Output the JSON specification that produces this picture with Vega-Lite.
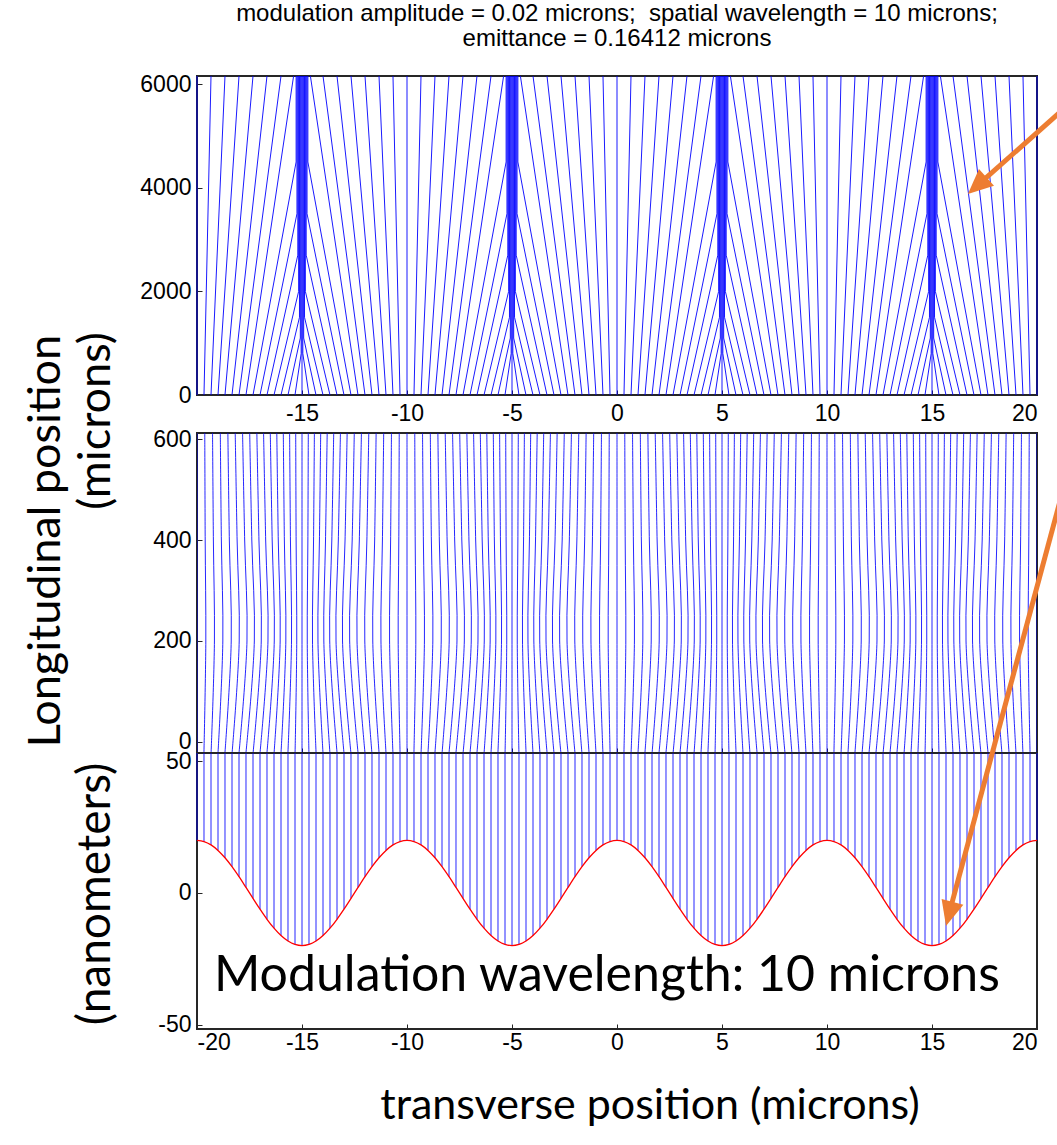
{
"$schema": "https://vega.github.io/schema/vega-lite/v6.json",
"background": "white",
"padding": {"left": 23, "top": 1, "right": 0, "bottom": 0},
"config": {
  "view": {"stroke": "#262626", "strokeWidth": 2},
  "axis": {"domain": false, "grid": false, "labelFont": "Liberation Sans", "labelFontSize": 23, "labelColor": "black", "tickColor": "#262626", "tickSize": -5, "title": null, "labelExpr": "'' + datum.value"},
  "axisY": {"labelPadding": 11}
},
"datasets": {
"top": [
{"k":0,"x":[-20,-20],"z":[0,6160]},
{"k":1,"x":[-19.667,-19.333],"z":[0,6160]},
{"k":2,"x":[-19.333,-18.667],"z":[0,6160]},
{"k":3,"x":[-19,-18],"z":[0,6160]},
{"k":4,"x":[-18.667,-17.333],"z":[0,6160]},
{"k":5,"x":[-18.333,-16.667],"z":[0,6160]},
{"k":6,"x":[-18,-16],"z":[0,6160]},
{"k":7,"x":[-17.667,-15.4],"z":[0,6160]},
{"k":8,"x":[-17.333,-15.28,-15.28],"z":[0,4500,6160]},
{"k":9,"x":[-17,-15.24,-15.24],"z":[0,3500,6160]},
{"k":10,"x":[-16.667,-15.2,-15.2],"z":[0,2700,6160]},
{"k":11,"x":[-16.333,-15.16,-15.16],"z":[0,2000,6160]},
{"k":12,"x":[-16,-15.12,-15.12],"z":[0,1500,6160]},
{"k":13,"x":[-15.667,-15.08,-15.08],"z":[0,1100,6160]},
{"k":14,"x":[-15.333,-15.04,-15.04],"z":[0,800,6160]},
{"k":15,"x":[-15,-15],"z":[0,6160]},
{"k":16,"x":[-14.667,-14.96,-14.96],"z":[0,800,6160]},
{"k":17,"x":[-14.333,-14.92,-14.92],"z":[0,1100,6160]},
{"k":18,"x":[-14,-14.88,-14.88],"z":[0,1500,6160]},
{"k":19,"x":[-13.667,-14.84,-14.84],"z":[0,2000,6160]},
{"k":20,"x":[-13.333,-14.8,-14.8],"z":[0,2700,6160]},
{"k":21,"x":[-13,-14.76,-14.76],"z":[0,3500,6160]},
{"k":22,"x":[-12.667,-14.72,-14.72],"z":[0,4500,6160]},
{"k":23,"x":[-12.333,-14.6],"z":[0,6160]},
{"k":24,"x":[-12,-14],"z":[0,6160]},
{"k":25,"x":[-11.667,-13.333],"z":[0,6160]},
{"k":26,"x":[-11.333,-12.667],"z":[0,6160]},
{"k":27,"x":[-11,-12],"z":[0,6160]},
{"k":28,"x":[-10.667,-11.333],"z":[0,6160]},
{"k":29,"x":[-10.333,-10.667],"z":[0,6160]},
{"k":30,"x":[-10,-10],"z":[0,6160]},
{"k":31,"x":[-9.667,-9.333],"z":[0,6160]},
{"k":32,"x":[-9.333,-8.667],"z":[0,6160]},
{"k":33,"x":[-9,-8],"z":[0,6160]},
{"k":34,"x":[-8.667,-7.333],"z":[0,6160]},
{"k":35,"x":[-8.333,-6.667],"z":[0,6160]},
{"k":36,"x":[-8,-6],"z":[0,6160]},
{"k":37,"x":[-7.667,-5.4],"z":[0,6160]},
{"k":38,"x":[-7.333,-5.28,-5.28],"z":[0,4500,6160]},
{"k":39,"x":[-7,-5.24,-5.24],"z":[0,3500,6160]},
{"k":40,"x":[-6.667,-5.2,-5.2],"z":[0,2700,6160]},
{"k":41,"x":[-6.333,-5.16,-5.16],"z":[0,2000,6160]},
{"k":42,"x":[-6,-5.12,-5.12],"z":[0,1500,6160]},
{"k":43,"x":[-5.667,-5.08,-5.08],"z":[0,1100,6160]},
{"k":44,"x":[-5.333,-5.04,-5.04],"z":[0,800,6160]},
{"k":45,"x":[-5,-5],"z":[0,6160]},
{"k":46,"x":[-4.667,-4.96,-4.96],"z":[0,800,6160]},
{"k":47,"x":[-4.333,-4.92,-4.92],"z":[0,1100,6160]},
{"k":48,"x":[-4,-4.88,-4.88],"z":[0,1500,6160]},
{"k":49,"x":[-3.667,-4.84,-4.84],"z":[0,2000,6160]},
{"k":50,"x":[-3.333,-4.8,-4.8],"z":[0,2700,6160]},
{"k":51,"x":[-3,-4.76,-4.76],"z":[0,3500,6160]},
{"k":52,"x":[-2.667,-4.72,-4.72],"z":[0,4500,6160]},
{"k":53,"x":[-2.333,-4.6],"z":[0,6160]},
{"k":54,"x":[-2,-4],"z":[0,6160]},
{"k":55,"x":[-1.667,-3.333],"z":[0,6160]},
{"k":56,"x":[-1.333,-2.667],"z":[0,6160]},
{"k":57,"x":[-1,-2],"z":[0,6160]},
{"k":58,"x":[-0.667,-1.333],"z":[0,6160]},
{"k":59,"x":[-0.333,-0.667],"z":[0,6160]},
{"k":60,"x":[0,0],"z":[0,6160]},
{"k":61,"x":[0.333,0.667],"z":[0,6160]},
{"k":62,"x":[0.667,1.333],"z":[0,6160]},
{"k":63,"x":[1,2],"z":[0,6160]},
{"k":64,"x":[1.333,2.667],"z":[0,6160]},
{"k":65,"x":[1.667,3.333],"z":[0,6160]},
{"k":66,"x":[2,4],"z":[0,6160]},
{"k":67,"x":[2.333,4.6],"z":[0,6160]},
{"k":68,"x":[2.667,4.72,4.72],"z":[0,4500,6160]},
{"k":69,"x":[3,4.76,4.76],"z":[0,3500,6160]},
{"k":70,"x":[3.333,4.8,4.8],"z":[0,2700,6160]},
{"k":71,"x":[3.667,4.84,4.84],"z":[0,2000,6160]},
{"k":72,"x":[4,4.88,4.88],"z":[0,1500,6160]},
{"k":73,"x":[4.333,4.92,4.92],"z":[0,1100,6160]},
{"k":74,"x":[4.667,4.96,4.96],"z":[0,800,6160]},
{"k":75,"x":[5,5],"z":[0,6160]},
{"k":76,"x":[5.333,5.04,5.04],"z":[0,800,6160]},
{"k":77,"x":[5.667,5.08,5.08],"z":[0,1100,6160]},
{"k":78,"x":[6,5.12,5.12],"z":[0,1500,6160]},
{"k":79,"x":[6.333,5.16,5.16],"z":[0,2000,6160]},
{"k":80,"x":[6.667,5.2,5.2],"z":[0,2700,6160]},
{"k":81,"x":[7,5.24,5.24],"z":[0,3500,6160]},
{"k":82,"x":[7.333,5.28,5.28],"z":[0,4500,6160]},
{"k":83,"x":[7.667,5.4],"z":[0,6160]},
{"k":84,"x":[8,6],"z":[0,6160]},
{"k":85,"x":[8.333,6.667],"z":[0,6160]},
{"k":86,"x":[8.667,7.333],"z":[0,6160]},
{"k":87,"x":[9,8],"z":[0,6160]},
{"k":88,"x":[9.333,8.667],"z":[0,6160]},
{"k":89,"x":[9.667,9.333],"z":[0,6160]},
{"k":90,"x":[10,10],"z":[0,6160]},
{"k":91,"x":[10.333,10.667],"z":[0,6160]},
{"k":92,"x":[10.667,11.333],"z":[0,6160]},
{"k":93,"x":[11,12],"z":[0,6160]},
{"k":94,"x":[11.333,12.667],"z":[0,6160]},
{"k":95,"x":[11.667,13.333],"z":[0,6160]},
{"k":96,"x":[12,14],"z":[0,6160]},
{"k":97,"x":[12.333,14.6],"z":[0,6160]},
{"k":98,"x":[12.667,14.72,14.72],"z":[0,4500,6160]},
{"k":99,"x":[13,14.76,14.76],"z":[0,3500,6160]},
{"k":100,"x":[13.333,14.8,14.8],"z":[0,2700,6160]},
{"k":101,"x":[13.667,14.84,14.84],"z":[0,2000,6160]},
{"k":102,"x":[14,14.88,14.88],"z":[0,1500,6160]},
{"k":103,"x":[14.333,14.92,14.92],"z":[0,1100,6160]},
{"k":104,"x":[14.667,14.96,14.96],"z":[0,800,6160]},
{"k":105,"x":[15,15],"z":[0,6160]},
{"k":106,"x":[15.333,15.04,15.04],"z":[0,800,6160]},
{"k":107,"x":[15.667,15.08,15.08],"z":[0,1100,6160]},
{"k":108,"x":[16,15.12,15.12],"z":[0,1500,6160]},
{"k":109,"x":[16.333,15.16,15.16],"z":[0,2000,6160]},
{"k":110,"x":[16.667,15.2,15.2],"z":[0,2700,6160]},
{"k":111,"x":[17,15.24,15.24],"z":[0,3500,6160]},
{"k":112,"x":[17.333,15.28,15.28],"z":[0,4500,6160]},
{"k":113,"x":[17.667,15.4],"z":[0,6160]},
{"k":114,"x":[18,16],"z":[0,6160]},
{"k":115,"x":[18.333,16.667],"z":[0,6160]},
{"k":116,"x":[18.667,17.333],"z":[0,6160]},
{"k":117,"x":[19,18],"z":[0,6160]},
{"k":118,"x":[19.333,18.667],"z":[0,6160]},
{"k":119,"x":[19.667,19.333],"z":[0,6160]},
{"k":120,"x":[20,20],"z":[0,6160]}
],
"mid": [
{"k":0,"x":[-20,-20,-20,-20],"z":[-22,200,400,612]},
{"k":1,"x":[-19.67,-19.58,-19.61,-19.63],"z":[-22,200,400,612]},
{"k":2,"x":[-19.33,-19.17,-19.22,-19.26],"z":[-22,200,400,612]},
{"k":3,"x":[-19,-18.77,-18.84,-18.89],"z":[-22,200,400,612]},
{"k":4,"x":[-18.67,-18.37,-18.46,-18.53],"z":[-22,200,400,612]},
{"k":5,"x":[-18.33,-17.99,-18.09,-18.18],"z":[-22,200,400,612]},
{"k":6,"x":[-18,-17.62,-17.73,-17.83],"z":[-22,200,400,612]},
{"k":7,"x":[-17.67,-17.27,-17.39,-17.49],"z":[-22,200,400,612]},
{"k":8,"x":[-17.33,-16.94,-17.05,-17.15],"z":[-22,200,400,612]},
{"k":9,"x":[-17,-16.62,-16.73,-16.83],"z":[-22,200,400,612]},
{"k":10,"x":[-16.67,-16.32,-16.42,-16.51],"z":[-22,200,400,612]},
{"k":11,"x":[-16.33,-16.04,-16.13,-16.2],"z":[-22,200,400,612]},
{"k":12,"x":[-16,-15.77,-15.84,-15.89],"z":[-22,200,400,612]},
{"k":13,"x":[-15.67,-15.5,-15.55,-15.59],"z":[-22,200,400,612]},
{"k":14,"x":[-15.33,-15.25,-15.28,-15.3],"z":[-22,200,400,612]},
{"k":15,"x":[-15,-15,-15,-15],"z":[-22,200,400,612]},
{"k":16,"x":[-14.67,-14.75,-14.72,-14.7],"z":[-22,200,400,612]},
{"k":17,"x":[-14.33,-14.5,-14.45,-14.41],"z":[-22,200,400,612]},
{"k":18,"x":[-14,-14.24,-14.17,-14.11],"z":[-22,200,400,612]},
{"k":19,"x":[-13.67,-13.96,-13.88,-13.8],"z":[-22,200,400,612]},
{"k":20,"x":[-13.33,-13.68,-13.58,-13.49],"z":[-22,200,400,612]},
{"k":21,"x":[-13,-13.38,-13.27,-13.17],"z":[-22,200,400,612]},
{"k":22,"x":[-12.67,-13.07,-12.95,-12.85],"z":[-22,200,400,612]},
{"k":23,"x":[-12.33,-12.73,-12.61,-12.51],"z":[-22,200,400,612]},
{"k":24,"x":[-12,-12.38,-12.27,-12.17],"z":[-22,200,400,612]},
{"k":25,"x":[-11.67,-12.01,-11.91,-11.82],"z":[-22,200,400,612]},
{"k":26,"x":[-11.33,-11.63,-11.54,-11.47],"z":[-22,200,400,612]},
{"k":27,"x":[-11,-11.24,-11.17,-11.11],"z":[-22,200,400,612]},
{"k":28,"x":[-10.67,-10.83,-10.78,-10.74],"z":[-22,200,400,612]},
{"k":29,"x":[-10.33,-10.42,-10.39,-10.37],"z":[-22,200,400,612]},
{"k":30,"x":[-10,-10,-10,-10],"z":[-22,200,400,612]},
{"k":31,"x":[-9.67,-9.58,-9.61,-9.63],"z":[-22,200,400,612]},
{"k":32,"x":[-9.33,-9.17,-9.22,-9.26],"z":[-22,200,400,612]},
{"k":33,"x":[-9,-8.77,-8.84,-8.89],"z":[-22,200,400,612]},
{"k":34,"x":[-8.67,-8.37,-8.46,-8.53],"z":[-22,200,400,612]},
{"k":35,"x":[-8.33,-7.99,-8.09,-8.18],"z":[-22,200,400,612]},
{"k":36,"x":[-8,-7.62,-7.73,-7.83],"z":[-22,200,400,612]},
{"k":37,"x":[-7.67,-7.27,-7.39,-7.49],"z":[-22,200,400,612]},
{"k":38,"x":[-7.33,-6.94,-7.05,-7.15],"z":[-22,200,400,612]},
{"k":39,"x":[-7,-6.62,-6.73,-6.83],"z":[-22,200,400,612]},
{"k":40,"x":[-6.67,-6.32,-6.42,-6.51],"z":[-22,200,400,612]},
{"k":41,"x":[-6.33,-6.04,-6.13,-6.2],"z":[-22,200,400,612]},
{"k":42,"x":[-6,-5.77,-5.84,-5.89],"z":[-22,200,400,612]},
{"k":43,"x":[-5.67,-5.5,-5.55,-5.59],"z":[-22,200,400,612]},
{"k":44,"x":[-5.33,-5.25,-5.28,-5.3],"z":[-22,200,400,612]},
{"k":45,"x":[-5,-5,-5,-5],"z":[-22,200,400,612]},
{"k":46,"x":[-4.67,-4.75,-4.72,-4.7],"z":[-22,200,400,612]},
{"k":47,"x":[-4.33,-4.5,-4.45,-4.41],"z":[-22,200,400,612]},
{"k":48,"x":[-4,-4.24,-4.17,-4.11],"z":[-22,200,400,612]},
{"k":49,"x":[-3.67,-3.96,-3.88,-3.8],"z":[-22,200,400,612]},
{"k":50,"x":[-3.33,-3.68,-3.58,-3.49],"z":[-22,200,400,612]},
{"k":51,"x":[-3,-3.38,-3.27,-3.17],"z":[-22,200,400,612]},
{"k":52,"x":[-2.67,-3.07,-2.95,-2.85],"z":[-22,200,400,612]},
{"k":53,"x":[-2.33,-2.73,-2.61,-2.51],"z":[-22,200,400,612]},
{"k":54,"x":[-2,-2.38,-2.27,-2.17],"z":[-22,200,400,612]},
{"k":55,"x":[-1.67,-2.01,-1.91,-1.82],"z":[-22,200,400,612]},
{"k":56,"x":[-1.33,-1.63,-1.54,-1.47],"z":[-22,200,400,612]},
{"k":57,"x":[-1,-1.24,-1.17,-1.11],"z":[-22,200,400,612]},
{"k":58,"x":[-0.67,-0.83,-0.78,-0.74],"z":[-22,200,400,612]},
{"k":59,"x":[-0.33,-0.42,-0.39,-0.37],"z":[-22,200,400,612]},
{"k":60,"x":[0,0,0,0],"z":[-22,200,400,612]},
{"k":61,"x":[0.33,0.42,0.39,0.37],"z":[-22,200,400,612]},
{"k":62,"x":[0.67,0.83,0.78,0.74],"z":[-22,200,400,612]},
{"k":63,"x":[1,1.23,1.16,1.11],"z":[-22,200,400,612]},
{"k":64,"x":[1.33,1.63,1.54,1.47],"z":[-22,200,400,612]},
{"k":65,"x":[1.67,2.01,1.91,1.82],"z":[-22,200,400,612]},
{"k":66,"x":[2,2.38,2.27,2.17],"z":[-22,200,400,612]},
{"k":67,"x":[2.33,2.73,2.61,2.51],"z":[-22,200,400,612]},
{"k":68,"x":[2.67,3.06,2.95,2.85],"z":[-22,200,400,612]},
{"k":69,"x":[3,3.38,3.27,3.17],"z":[-22,200,400,612]},
{"k":70,"x":[3.33,3.68,3.58,3.49],"z":[-22,200,400,612]},
{"k":71,"x":[3.67,3.96,3.87,3.8],"z":[-22,200,400,612]},
{"k":72,"x":[4,4.23,4.16,4.11],"z":[-22,200,400,612]},
{"k":73,"x":[4.33,4.5,4.45,4.41],"z":[-22,200,400,612]},
{"k":74,"x":[4.67,4.75,4.72,4.7],"z":[-22,200,400,612]},
{"k":75,"x":[5,5,5,5],"z":[-22,200,400,612]},
{"k":76,"x":[5.33,5.25,5.28,5.3],"z":[-22,200,400,612]},
{"k":77,"x":[5.67,5.5,5.55,5.59],"z":[-22,200,400,612]},
{"k":78,"x":[6,5.76,5.83,5.89],"z":[-22,200,400,612]},
{"k":79,"x":[6.33,6.04,6.12,6.2],"z":[-22,200,400,612]},
{"k":80,"x":[6.67,6.32,6.42,6.51],"z":[-22,200,400,612]},
{"k":81,"x":[7,6.62,6.73,6.83],"z":[-22,200,400,612]},
{"k":82,"x":[7.33,6.93,7.05,7.15],"z":[-22,200,400,612]},
{"k":83,"x":[7.67,7.27,7.39,7.49],"z":[-22,200,400,612]},
{"k":84,"x":[8,7.62,7.73,7.83],"z":[-22,200,400,612]},
{"k":85,"x":[8.33,7.99,8.09,8.18],"z":[-22,200,400,612]},
{"k":86,"x":[8.67,8.37,8.46,8.53],"z":[-22,200,400,612]},
{"k":87,"x":[9,8.76,8.83,8.89],"z":[-22,200,400,612]},
{"k":88,"x":[9.33,9.17,9.22,9.26],"z":[-22,200,400,612]},
{"k":89,"x":[9.67,9.58,9.61,9.63],"z":[-22,200,400,612]},
{"k":90,"x":[10,10,10,10],"z":[-22,200,400,612]},
{"k":91,"x":[10.33,10.42,10.39,10.37],"z":[-22,200,400,612]},
{"k":92,"x":[10.67,10.83,10.78,10.74],"z":[-22,200,400,612]},
{"k":93,"x":[11,11.23,11.16,11.11],"z":[-22,200,400,612]},
{"k":94,"x":[11.33,11.63,11.54,11.47],"z":[-22,200,400,612]},
{"k":95,"x":[11.67,12.01,11.91,11.82],"z":[-22,200,400,612]},
{"k":96,"x":[12,12.38,12.27,12.17],"z":[-22,200,400,612]},
{"k":97,"x":[12.33,12.73,12.61,12.51],"z":[-22,200,400,612]},
{"k":98,"x":[12.67,13.06,12.95,12.85],"z":[-22,200,400,612]},
{"k":99,"x":[13,13.38,13.27,13.17],"z":[-22,200,400,612]},
{"k":100,"x":[13.33,13.68,13.58,13.49],"z":[-22,200,400,612]},
{"k":101,"x":[13.67,13.96,13.87,13.8],"z":[-22,200,400,612]},
{"k":102,"x":[14,14.23,14.16,14.11],"z":[-22,200,400,612]},
{"k":103,"x":[14.33,14.5,14.45,14.41],"z":[-22,200,400,612]},
{"k":104,"x":[14.67,14.75,14.72,14.7],"z":[-22,200,400,612]},
{"k":105,"x":[15,15,15,15],"z":[-22,200,400,612]},
{"k":106,"x":[15.33,15.25,15.28,15.3],"z":[-22,200,400,612]},
{"k":107,"x":[15.67,15.5,15.55,15.59],"z":[-22,200,400,612]},
{"k":108,"x":[16,15.76,15.83,15.89],"z":[-22,200,400,612]},
{"k":109,"x":[16.33,16.04,16.12,16.2],"z":[-22,200,400,612]},
{"k":110,"x":[16.67,16.32,16.42,16.51],"z":[-22,200,400,612]},
{"k":111,"x":[17,16.62,16.73,16.83],"z":[-22,200,400,612]},
{"k":112,"x":[17.33,16.93,17.05,17.15],"z":[-22,200,400,612]},
{"k":113,"x":[17.67,17.27,17.39,17.49],"z":[-22,200,400,612]},
{"k":114,"x":[18,17.62,17.73,17.83],"z":[-22,200,400,612]},
{"k":115,"x":[18.33,17.99,18.09,18.18],"z":[-22,200,400,612]},
{"k":116,"x":[18.67,18.37,18.46,18.53],"z":[-22,200,400,612]},
{"k":117,"x":[19,18.76,18.83,18.89],"z":[-22,200,400,612]},
{"k":118,"x":[19.33,19.17,19.22,19.26],"z":[-22,200,400,612]},
{"k":119,"x":[19.67,19.58,19.61,19.63],"z":[-22,200,400,612]},
{"k":120,"x":[20,20,20,20],"z":[-22,200,400,612]}
],
"bot": [
{"x":-20,"h":20},{"x":-19.667,"h":19.56},{"x":-19.333,"h":18.27},{"x":-19,"h":16.18},{"x":-18.667,"h":13.38},{"x":-18.333,"h":10},{"x":-18,"h":6.18},{"x":-17.667,"h":2.09},{"x":-17.333,"h":-2.09},{"x":-17,"h":-6.18},{"x":-16.667,"h":-10},{"x":-16.333,"h":-13.38},{"x":-16,"h":-16.18},{"x":-15.667,"h":-18.27},{"x":-15.333,"h":-19.56},{"x":-15,"h":-20},{"x":-14.667,"h":-19.56},{"x":-14.333,"h":-18.27},{"x":-14,"h":-16.18},{"x":-13.667,"h":-13.38},{"x":-13.333,"h":-10},{"x":-13,"h":-6.18},{"x":-12.667,"h":-2.09},{"x":-12.333,"h":2.09},{"x":-12,"h":6.18},{"x":-11.667,"h":10},{"x":-11.333,"h":13.38},{"x":-11,"h":16.18},{"x":-10.667,"h":18.27},{"x":-10.333,"h":19.56},
{"x":-10,"h":20},{"x":-9.667,"h":19.56},{"x":-9.333,"h":18.27},{"x":-9,"h":16.18},{"x":-8.667,"h":13.38},{"x":-8.333,"h":10},{"x":-8,"h":6.18},{"x":-7.667,"h":2.09},{"x":-7.333,"h":-2.09},{"x":-7,"h":-6.18},{"x":-6.667,"h":-10},{"x":-6.333,"h":-13.38},{"x":-6,"h":-16.18},{"x":-5.667,"h":-18.27},{"x":-5.333,"h":-19.56},{"x":-5,"h":-20},{"x":-4.667,"h":-19.56},{"x":-4.333,"h":-18.27},{"x":-4,"h":-16.18},{"x":-3.667,"h":-13.38},{"x":-3.333,"h":-10},{"x":-3,"h":-6.18},{"x":-2.667,"h":-2.09},{"x":-2.333,"h":2.09},{"x":-2,"h":6.18},{"x":-1.667,"h":10},{"x":-1.333,"h":13.38},{"x":-1,"h":16.18},{"x":-0.667,"h":18.27},{"x":-0.333,"h":19.56},
{"x":0,"h":20},{"x":0.333,"h":19.56},{"x":0.667,"h":18.27},{"x":1,"h":16.18},{"x":1.333,"h":13.38},{"x":1.667,"h":10},{"x":2,"h":6.18},{"x":2.333,"h":2.09},{"x":2.667,"h":-2.09},{"x":3,"h":-6.18},{"x":3.333,"h":-10},{"x":3.667,"h":-13.38},{"x":4,"h":-16.18},{"x":4.333,"h":-18.27},{"x":4.667,"h":-19.56},{"x":5,"h":-20},{"x":5.333,"h":-19.56},{"x":5.667,"h":-18.27},{"x":6,"h":-16.18},{"x":6.333,"h":-13.38},{"x":6.667,"h":-10},{"x":7,"h":-6.18},{"x":7.333,"h":-2.09},{"x":7.667,"h":2.09},{"x":8,"h":6.18},{"x":8.333,"h":10},{"x":8.667,"h":13.38},{"x":9,"h":16.18},{"x":9.333,"h":18.27},{"x":9.667,"h":19.56},
{"x":10,"h":20},{"x":10.333,"h":19.56},{"x":10.667,"h":18.27},{"x":11,"h":16.18},{"x":11.333,"h":13.38},{"x":11.667,"h":10},{"x":12,"h":6.18},{"x":12.333,"h":2.09},{"x":12.667,"h":-2.09},{"x":13,"h":-6.18},{"x":13.333,"h":-10},{"x":13.667,"h":-13.38},{"x":14,"h":-16.18},{"x":14.333,"h":-18.27},{"x":14.667,"h":-19.56},{"x":15,"h":-20},{"x":15.333,"h":-19.56},{"x":15.667,"h":-18.27},{"x":16,"h":-16.18},{"x":16.333,"h":-13.38},{"x":16.667,"h":-10},{"x":17,"h":-6.18},{"x":17.333,"h":-2.09},{"x":17.667,"h":2.09},{"x":18,"h":6.18},{"x":18.333,"h":10},{"x":18.667,"h":13.38},{"x":19,"h":16.18},{"x":19.333,"h":18.27},{"x":19.667,"h":19.56},
{"x":20,"h":20}
]
},
"bounds": "flush",
"spacing": 38,
"vconcat": [
{
  "width": 840, "height": 319,
  "title": {"text": ["modulation amplitude = 0.02 microns; \u00a0spatial wavelength = 10 microns;", "emittance = 0.16412 microns"], "frame": "group", "anchor": "middle", "font": "Liberation Sans", "fontSize": 24, "fontWeight": "normal", "color": "black", "offset": 22, "lineHeight": 25},
  "encoding": {
    "x": {"field": "x", "type": "quantitative", "scale": {"domain": [-20, 20], "nice": false, "zero": false}, "axis": {"values": [-15, -10, -5, 0, 5, 10, 15, 20], "labelPadding": 12}},
    "y": {"field": "z", "type": "quantitative", "scale": {"domain": [0, 6160], "nice": false, "zero": false}, "axis": {"values": [0, 2000, 4000, 6000]}}
  },
  "layer": [
    {"data": {"name": "top"}, "transform": [{"flatten": ["x", "z"]}], "mark": {"type": "line", "color": "#0000ff", "strokeWidth": 1, "opacity": 0.9}, "encoding": {"detail": {"field": "k"}, "order": {"field": "z"}}},
    {"data": {"values": [{"x": 21.48, "z": 5600}, {"x": 17.14, "z": 4036}]}, "mark": {"type": "line", "color": "#ED7D31", "strokeWidth": 5, "strokeCap": "butt"}, "encoding": {}},
    {"data": {"values": [{"x": 16.71, "z": 3881}]}, "mark": {"type": "point", "shape": "M0,0L-0.45,1L0.45,1Z", "size": 2500, "filled": true, "color": "#ED7D31", "opacity": 1, "angle": 228, "strokeWidth": 0}, "encoding": {}}
  ]
},
{
  "bounds": "flush",
  "spacing": 0,
  "vconcat": [
    {
      "width": 840, "height": 320,
      "encoding": {
        "x": {"field": "x", "type": "quantitative", "scale": {"domain": [-20, 20], "nice": false, "zero": false}, "axis": {"values": [-15, -10, -5, 0, 5, 10, 15, 20], "labels": false}},
        "y": {"field": "z", "type": "quantitative", "scale": {"domain": [-21.8, 611.9], "nice": false, "zero": false}, "axis": {"values": [0, 200, 400, 600]}}
      },
      "layer": [
        {"data": {"name": "mid"}, "transform": [{"flatten": ["x", "z"]}], "mark": {"type": "line", "color": "#0000ff", "strokeWidth": 1, "opacity": 0.85, "interpolate": "catmull-rom", "clip": true}, "encoding": {"detail": {"field": "k"}, "order": {"field": "z"}}},
        {"data": {"values": [{"x": -27.19, "z": 398}]}, "mark": {"type": "text", "text": "Longitudinal position", "font": "Lato", "fontSize": 45, "angle": 270, "align": "center", "baseline": "middle", "color": "black"}, "encoding": {}},
        {"data": {"values": [{"x": -24.81, "z": 635.6}]}, "mark": {"type": "text", "text": "(microns)", "font": "Lato", "fontSize": 45, "angle": 270, "align": "center", "baseline": "middle", "color": "black"}, "encoding": {}}
      ]
    },
    {
      "width": 840, "height": 276,
      "encoding": {
        "x": {"field": "x", "type": "quantitative", "scale": {"domain": [-20, 20], "nice": false, "zero": false}, "axis": {"values": [-20, -15, -10, -5, 0, 5, 10, 15, 20], "labelPadding": 7}},
        "y": {"field": "h", "type": "quantitative", "scale": {"domain": [-51.7, 53.2], "nice": false, "zero": false}, "axis": {"values": [-50, 0, 50]}}
      },
      "layer": [
        {"data": {"name": "bot"}, "mark": {"type": "rule", "color": "#0000ff", "strokeWidth": 1, "opacity": 0.85}, "encoding": {"y2": {"datum": 53.2}}},
        {"data": {"name": "bot"}, "mark": {"type": "line", "color": "#ff0000", "strokeWidth": 1.3, "interpolate": "monotone"}, "encoding": {}},
        {"data": {"values": [{"x": -0.48, "h": -37.3}]}, "mark": {"type": "text", "text": "Modulation wavelength: 10 microns", "font": "Lato", "fontSize": 50, "align": "center", "baseline": "alphabetic", "color": "black"}, "encoding": {}},
        {"data": {"values": [{"x": -24.81, "h": -0.38}]}, "mark": {"type": "text", "text": "(nanometers)", "font": "Lato", "fontSize": 46, "angle": 270, "align": "center", "baseline": "middle", "color": "black"}, "encoding": {}},
        {"data": {"values": [{"x": 1.57, "h": -81}]}, "mark": {"type": "text", "text": "transverse position (microns)", "font": "Lato", "fontSize": 43, "align": "center", "baseline": "middle", "color": "black"}, "encoding": {}},
        {"data": {"values": [{"x": 21.24, "h": 153.2}, {"x": 15.81, "h": -7.98}]}, "mark": {"type": "line", "color": "#ED7D31", "strokeWidth": 5, "strokeCap": "butt"}, "encoding": {}},
        {"data": {"values": [{"x": 15.667, "h": -12.55}]}, "mark": {"type": "point", "shape": "M0,0L-0.45,1L0.45,1Z", "size": 2500, "filled": true, "color": "#ED7D31", "opacity": 1, "angle": 195, "strokeWidth": 0}, "encoding": {}}
      ]
    }
  ]
}
]
}
